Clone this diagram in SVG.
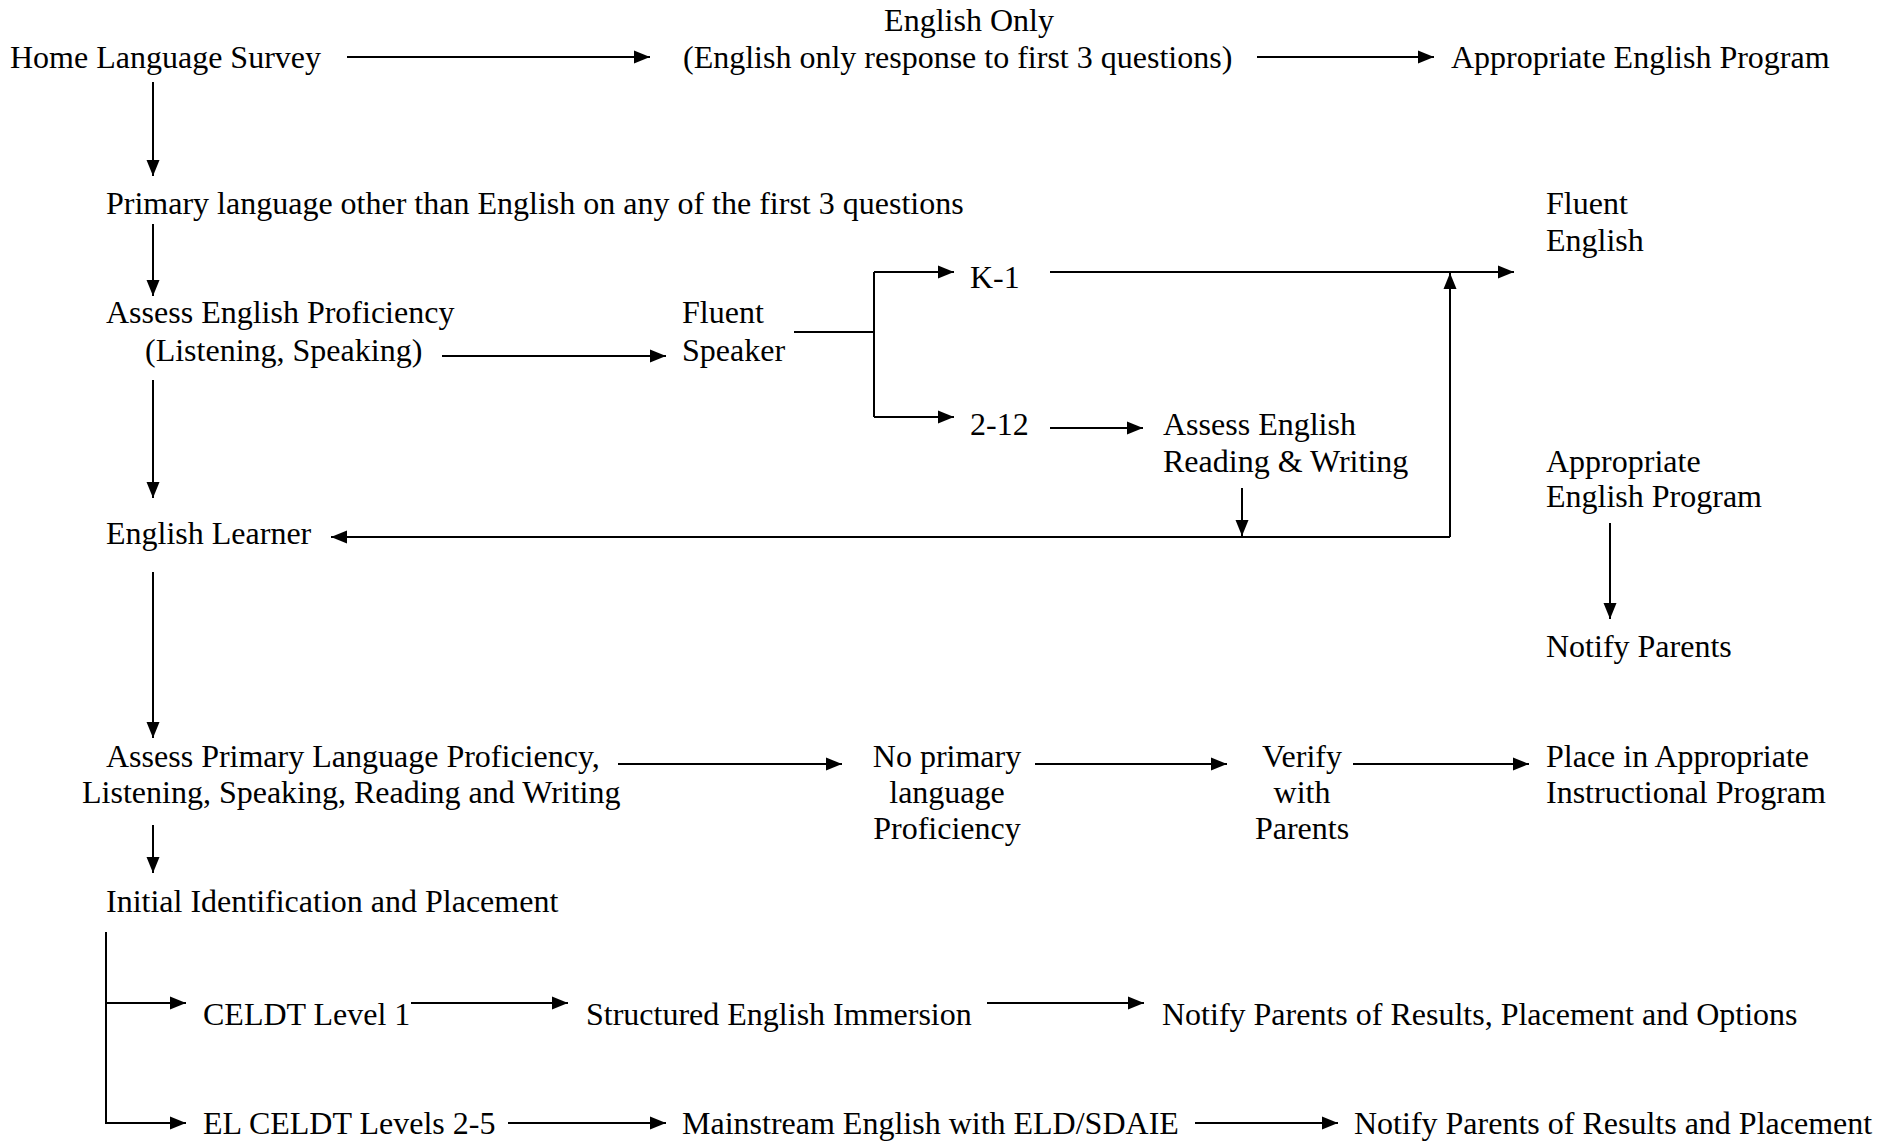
<svg xmlns="http://www.w3.org/2000/svg" width="1895" height="1142" viewBox="0 0 1895 1142">
<style>
text{font-family:"Liberation Serif","Times New Roman",serif;font-size:32px;fill:#000}
.c{text-anchor:middle}
.l{fill:none;stroke:#000;stroke-width:2}
.a{fill:none;stroke:#000;stroke-width:2;marker-end:url(#ah)}
</style>
<defs>
<marker id="ah" markerUnits="userSpaceOnUse" markerWidth="16" markerHeight="14" refX="16" refY="7" orient="auto"><path d="M0,0.5 L16,7 L0,13.5 z" fill="#000"/></marker>
</defs>
<rect width="1895" height="1142" fill="#fff"/>
<g id="n-home"><text x="10" y="68">Home Language Survey</text></g>
<g id="n-englishonly"><text class="c" x="969" y="31">English Only</text><text x="683" y="68">(English only response to first 3 questions)</text></g>
<g id="n-approp-top"><text x="1451" y="68">Appropriate English Program</text></g>
<g id="n-primary"><text x="106" y="214">Primary language other than English on any of the first 3 questions</text></g>
<g id="n-assess-eng"><text x="106" y="323">Assess English Proficiency</text><text x="145" y="361">(Listening, Speaking)</text></g>
<g id="n-fluent-speaker"><text x="682" y="323">Fluent</text><text x="682" y="361">Speaker</text></g>
<g id="n-k1"><text x="970" y="288">K-1</text></g>
<g id="n-212"><text x="970" y="435">2-12</text></g>
<g id="n-assess-rw"><text x="1163" y="435">Assess English</text><text x="1163" y="472">Reading &amp; Writing</text></g>
<g id="n-fluent-english"><text x="1546" y="214">Fluent</text><text x="1546" y="251">English</text></g>
<g id="n-approp-right"><text x="1546" y="472">Appropriate</text><text x="1546" y="507">English Program</text></g>
<g id="n-notify"><text x="1546" y="657">Notify Parents</text></g>
<g id="n-learner"><text x="106" y="544">English Learner</text></g>
<g id="n-assess-primary"><text x="106" y="767">Assess Primary Language Proficiency,</text><text x="82" y="803">Listening, Speaking, Reading and Writing</text></g>
<g id="n-noprimary"><text class="c" x="947" y="767">No primary</text><text class="c" x="947" y="803">language</text><text class="c" x="947" y="839">Proficiency</text></g>
<g id="n-verify"><text class="c" x="1302" y="767">Verify</text><text class="c" x="1302" y="803">with</text><text class="c" x="1302" y="839">Parents</text></g>
<g id="n-place"><text x="1546" y="767">Place in Appropriate</text><text x="1546" y="803">Instructional Program</text></g>
<g id="n-initial"><text x="106" y="912">Initial Identification and Placement</text></g>
<g id="n-celdt1"><text x="203" y="1025">CELDT Level 1</text></g>
<g id="n-sei"><text x="586" y="1025">Structured English Immersion</text></g>
<g id="n-notify1"><text x="1162" y="1025">Notify Parents of Results, Placement and Options</text></g>
<g id="n-celdt25"><text x="203" y="1134">EL CELDT Levels 2-5</text></g>
<g id="n-mainstream"><text x="682" y="1134">Mainstream English with ELD/SDAIE</text></g>
<g id="n-notify2"><text x="1354" y="1134">Notify Parents of Results and Placement</text></g>
<g id="connectors">
<path class="a" d="M347,57 H650"/>
<path class="a" d="M1257,57 H1434"/>
<path class="a" d="M153,82 V176"/>
<path class="a" d="M153,224 V296"/>
<path class="a" d="M442,356 H666"/>
<path class="l" d="M794,332 H874 M874,272 V417"/>
<path class="a" d="M874,272 H954"/>
<path class="a" d="M874,417 H954"/>
<path class="a" d="M1050,272 H1514"/>
<path class="a" d="M1050,428 H1143"/>
<path class="a" d="M1242,488 V536"/>
<path class="a" d="M1450,537 V273"/>
<path class="a" d="M1450,537 H331"/>
<path class="a" d="M153,380 V498"/>
<path class="a" d="M1610,523 V619"/>
<path class="a" d="M153,572 V738"/>
<path class="a" d="M618,764 H842"/>
<path class="a" d="M1035,764 H1227"/>
<path class="a" d="M1353,764 H1529"/>
<path class="a" d="M153,825 V873"/>
<path class="l" d="M106,932 V1124"/>
<path class="a" d="M106,1003 H186"/>
<path class="a" d="M106,1123 H186"/>
<path class="a" d="M411,1003 H568"/>
<path class="a" d="M987,1003 H1144"/>
<path class="a" d="M508,1123 H666"/>
<path class="a" d="M1195,1123 H1338"/>
</g>
</svg>
